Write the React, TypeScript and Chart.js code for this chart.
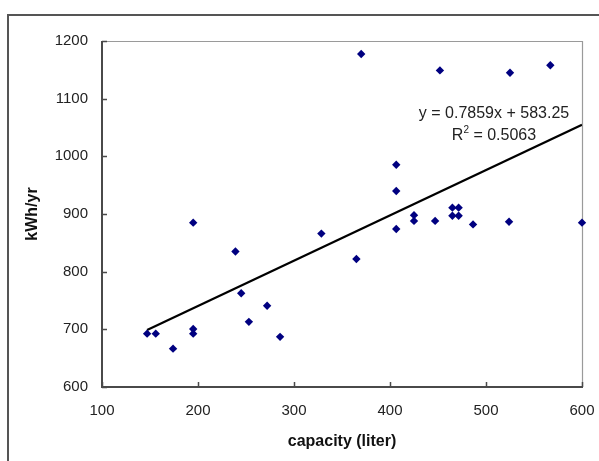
import React, { useEffect, useRef } from "react";
import { Chart, registerables } from "chart.js";

Chart.register(...registerables);

// capacity (liter)
const capacity = [
  195, 239, 328.5, 245, 272, 253, 285.5, 147, 156, 174, 195, 195,
  370, 452, 525, 567, 406.5, 406.5,
  365, 406.5, 425, 425, 447, 465, 471.5, 465, 471.5, 486.5, 524, 600,
];
// kWh/yr
const energy = [
  885, 835, 866, 762.5, 741, 713, 687, 692.5, 692.5, 666.5, 700.5, 692.5,
  1177.5, 1149, 1145, 1158, 985.5, 940,
  822, 874, 898, 888, 888, 911, 911, 897, 897, 882, 886.5, 885,
];
// linear trendline end points
const trendX = [147, 600];
const trendY = [698.8, 1054.8];

const xMin = 100;
const xMax = 600;
const yMin = 600;
const yMax = 1200;
const tickStep = 100;

const xTitle = "capacity (liter)";
const yTitle = "kWh/yr";
const eqText = "y = 0.7859x + 583.25";
const r2Label = "R";
const r2Sup = "2";
const r2Text = " = 0.5063";

const FONT = "Arial, 'Liberation Sans', sans-serif";

const decorPlugin = {
  id: "decor",
  beforeDraw(chart: any) {
    const { ctx, width, height } = chart;
    ctx.save();
    ctx.fillStyle = "#ffffff";
    ctx.fillRect(0, 0, width, height);
    ctx.strokeStyle = "#555555";
    ctx.lineWidth = 2;
    ctx.strokeRect(8, 15, width + 20, height + 20);
    ctx.restore();
  },
  beforeDatasetsDraw(chart: any) {
    const { ctx, chartArea } = chart;
    const { left, top, right, bottom } = chartArea;
    ctx.save();
    // top / right plot border
    ctx.strokeStyle = "#9a9a9a";
    ctx.lineWidth = 1.2;
    ctx.beginPath();
    ctx.moveTo(left, top + 0.5);
    ctx.lineTo(right + 0.5, top + 0.5);
    ctx.lineTo(right + 0.5, bottom);
    ctx.stroke();
    // left / bottom axes
    ctx.strokeStyle = "#4a4a4a";
    ctx.lineWidth = 2;
    ctx.beginPath();
    ctx.moveTo(left, top);
    ctx.lineTo(left, bottom);
    ctx.lineTo(right + 1, bottom);
    ctx.stroke();
    // inside tick marks
    const xs = chart.scales.x;
    const ys = chart.scales.y;
    ctx.lineWidth = 1.5;
    ctx.beginPath();
    xs.ticks.forEach((t: any) => {
      const px = Math.round(xs.getPixelForValue(t.value)) + 0.5;
      ctx.moveTo(px, bottom);
      ctx.lineTo(px, bottom - 5);
    });
    ys.ticks.forEach((t: any) => {
      const py = Math.round(ys.getPixelForValue(t.value)) + 0.5;
      ctx.moveTo(left, py);
      ctx.lineTo(left + 5, py);
    });
    ctx.stroke();
    ctx.restore();
  },
  afterDraw(chart: any) {
    const { ctx } = chart;
    ctx.save();
    ctx.fillStyle = "#222222";
    ctx.font = `16px ${FONT}`;
    ctx.textBaseline = "middle";
    ctx.textAlign = "center";
    const cx = 494;
    ctx.fillText(eqText, cx, 114);
    // R^2 line
    const wR = ctx.measureText(r2Label).width;
    ctx.font = `10px ${FONT}`;
    const wS = ctx.measureText(r2Sup).width;
    ctx.font = `16px ${FONT}`;
    const wT = ctx.measureText(r2Text).width;
    const total = wR + wS + wT;
    const x0 = cx - total / 2;
    ctx.textAlign = "left";
    ctx.fillText(r2Label, x0, 136);
    ctx.font = `10px ${FONT}`;
    ctx.fillText(r2Sup, x0 + wR, 130);
    ctx.font = `16px ${FONT}`;
    ctx.fillText(r2Text, x0 + wR + wS, 136);
    ctx.restore();
  },
};

export default function App() {
  const ref = useRef<HTMLCanvasElement | null>(null);

  useEffect(() => {
    if (!ref.current) return;
    const points = capacity.map((c, i) => ({ x: c, y: energy[i] }));
    const trend = trendX.map((c, i) => ({ x: c, y: trendY[i] }));
    const chart = new Chart(ref.current, {
      type: "scatter",
      data: {
        datasets: [
          {
            type: "line",
            data: trend,
            borderColor: "#000000",
            borderWidth: 2.2,
            pointRadius: 0,
            showLine: true,
            fill: false,
            order: 1,
          } as any,
          {
            data: points,
            pointStyle: "rectRot",
            pointRadius: 4.2,
            pointBorderWidth: 0,
            backgroundColor: "#000080",
            borderColor: "#000080",
            clip: false,
            order: 0,
          } as any,
        ],
      },
      options: {
        responsive: false,
        animation: false,
        devicePixelRatio: 1,
        layout: { padding: { left: 0, top: 41, right: 17, bottom: 0 } },
        plugins: {
          legend: { display: false },
          tooltip: { enabled: false },
        },
        scales: {
          x: {
            type: "linear",
            min: xMin,
            max: xMax,
            grid: { display: false, drawTicks: false },
            border: { display: false },
            ticks: {
              stepSize: tickStep,
              padding: 15,
              color: "#222222",
              font: { family: FONT, size: 15 },
              maxRotation: 0,
              callback: (v: any) => String(v),
            },
            title: {
              display: true,
              text: xTitle,
              color: "#111111",
              font: { family: FONT, size: 16, weight: "bold" },
              padding: { top: 0, bottom: 10 },
            },
            afterFit: (s: any) => {
              s.height = 74;
              s.paddingLeft = 0;
              s.paddingRight = 0;
            },
          },
          y: {
            type: "linear",
            min: yMin,
            max: yMax,
            grid: { display: false, drawTicks: false },
            border: { display: false },
            ticks: {
              stepSize: tickStep,
              padding: 14,
              color: "#222222",
              font: { family: FONT, size: 15 },
              callback: (v: any) => String(v),
            },
            title: {
              display: true,
              text: yTitle,
              color: "#111111",
              font: { family: FONT, size: 16, weight: "bold" },
              padding: { top: 23, bottom: 0 },
            },
            afterFit: (s: any) => {
              s.width = 102;
              s.paddingTop = 0;
              s.paddingBottom = 0;
            },
          },
        },
      },
      plugins: [decorPlugin],
    });
    return () => chart.destroy();
  }, []);

  return (
    <div style={{ position: "absolute", left: 0, top: 0, width: 599, height: 461 }}>
      <canvas ref={ref} width={599} height={461} style={{ width: 599, height: 461 }} />
    </div>
  );
}
